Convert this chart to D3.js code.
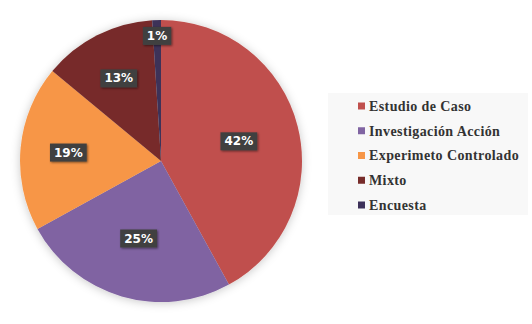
<!DOCTYPE html>
<html>
<head>
<meta charset="utf-8">
<script src="https://cdn.jsdelivr.net/npm/d3@7"></script>
<style>
  body { margin: 0; background: #fff; }
  svg { display: block; }
</style>
</head>
<body>
<div id="chart"></div>
<script>
// data
const categories = ["Estudio de Caso", "Investigación Acción", "Experimeto Controlado", "Mixto", "Encuesta"];
const values = [42, 25, 19, 13, 1];
const colors = ["#c0504d", "#8064a2", "#f79646", "#772c2a", "#3d3159"];

const width = 532, height = 324;
const cx = 161, cy = 161, radius = 141;

const svg = d3.select("#chart").append("svg")
    .attr("width", width)
    .attr("height", height);

// shadows
const defs = svg.append("defs");
defs.append("filter").attr("id", "pieShadow")
    .attr("x", "-20%").attr("y", "-20%").attr("width", "140%").attr("height", "140%")
    .append("feDropShadow")
    .attr("dx", 0).attr("dy", 1).attr("stdDeviation", 5)
    .attr("flood-color", "#000").attr("flood-opacity", 0.22);
defs.append("filter").attr("id", "boxShadow")
    .attr("x", "-30%").attr("y", "-30%").attr("width", "160%").attr("height", "160%")
    .append("feDropShadow")
    .attr("dx", 1).attr("dy", 1).attr("stdDeviation", 1.2)
    .attr("flood-color", "#000").attr("flood-opacity", 0.5);

const total = d3.sum(values);
const data = categories.map((c, i) => ({ name: c, value: values[i], color: colors[i] }));

const pie = d3.pie().sort(null).value(d => d.value);
const arc = d3.arc().innerRadius(0).outerRadius(radius);
const arcs = pie(data);

const g = svg.append("g").attr("transform", `translate(${cx},${cy})`);

g.append("g").attr("filter", "url(#pieShadow)")
    .selectAll("path")
    .data(arcs)
    .join("path")
    .attr("d", arc)
    .attr("fill", d => d.data.color);

// label radius: small slices go further out, like Excel best fit
const labelRadius = d => {
    const p = d.data.value / total;
    if (p < 0.05) return radius * 0.89;
    if (p < 0.2) return radius * 0.66;
    return radius * 0.57;
};

const labels = g.append("g")
    .selectAll("g")
    .data(arcs)
    .join("g")
    .attr("transform", d => {
        const r = labelRadius(d);
        const a = (d.startAngle + d.endAngle) / 2;
        return `translate(${Math.sin(a) * r},${-Math.cos(a) * r})`;
    });

labels.append("text")
    .attr("text-anchor", "middle")
    .attr("dy", "0.36em")
    .style("font-family", "'DejaVu Sans', Verdana, sans-serif")
    .style("font-weight", "bold")
    .style("font-size", "12px")
    .attr("fill", "#fff")
    .text(d => Math.round(d.data.value / total * 100) + "%")
    .each(function() {
        const b = this.getBBox();
        d3.select(this.parentNode).insert("rect", "text")
            .attr("x", b.x - 4)
            .attr("y", b.y - 2)
            .attr("width", b.width + 8)
            .attr("height", b.height + 4)
            .attr("fill", "#404040")
            .attr("filter", "url(#boxShadow)");
    });

// legend
const legend = svg.append("g");
legend.append("rect")
    .attr("x", 328).attr("y", 93)
    .attr("width", 200).attr("height", 122)
    .attr("fill", "#f8f8f8");

const legendY = d3.scalePoint()
    .domain(categories)
    .range([106, 205]);

const items = legend.selectAll("g.item")
    .data(data)
    .join("g")
    .attr("class", "item")
    .attr("transform", d => `translate(358,${legendY(d.name)})`);

items.append("rect")
    .attr("x", 0).attr("y", -3.5)
    .attr("width", 7).attr("height", 7)
    .attr("fill", d => d.color);

items.append("text")
    .attr("x", 11)
    .attr("dy", "0.35em")
    .style("font-family", "'Liberation Serif', 'DejaVu Serif', serif")
    .style("font-weight", "bold")
    .style("font-size", "14px")
    .style("letter-spacing", "0.4px")
    .attr("fill", "#333")
    .text(d => d.name);
</script>
</body>
</html>
